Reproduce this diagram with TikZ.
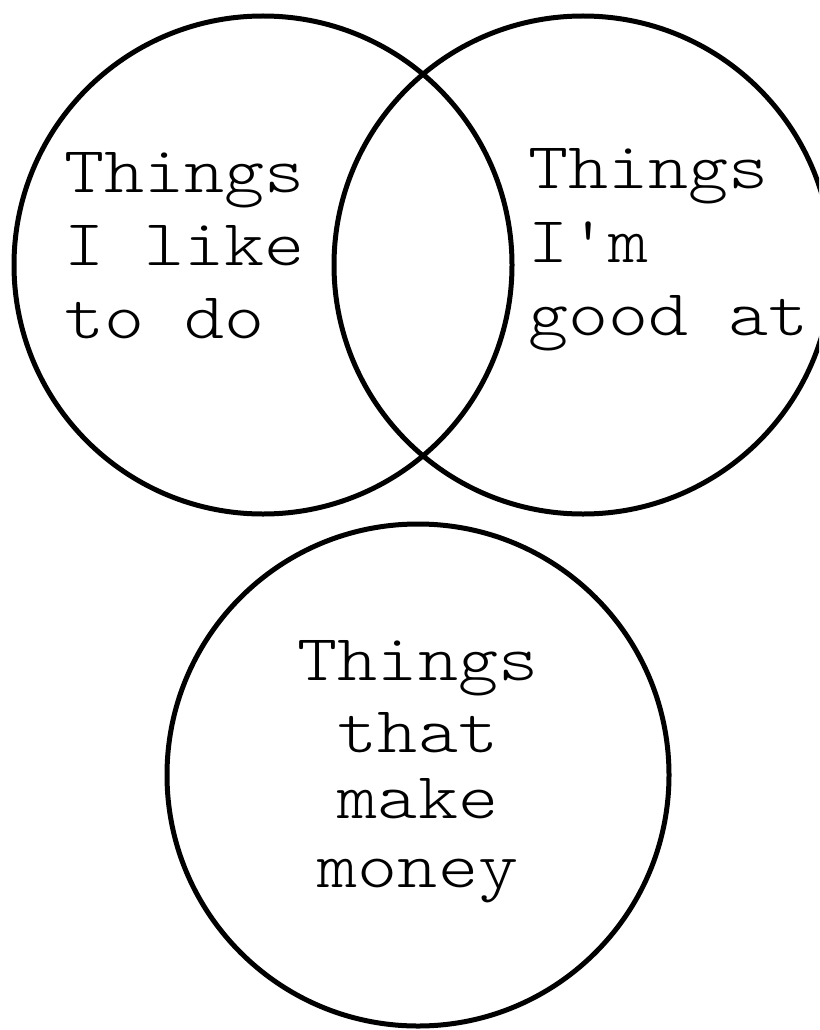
\documentclass[tikz,border=0pt]{standalone}
\usepackage{fontspec}
\newfontfamily\cour{lmmonolt10-regular.otf}[FakeStretch=1.165]
\begin{document}
\begin{tikzpicture}[x=1pt,y=-1pt,
  venn/.style={circle, draw=black, line width=5pt, inner sep=0pt},
  lbl/.style={inner sep=0pt, font=\cour\fontsize{65.5}{72}\selectfont, text=black}]
\useasboundingbox (0,0) rectangle (819,1030);
\clip (0,0) rectangle (819,1030);
\fill[white] (0,0) rectangle (819,1030);
\node[venn, minimum size=498pt] (like) at (263,265) {};
\node[venn, minimum size=498pt] (good) at (583,265) {};
\node[venn, minimum size=502pt] (money) at (418,775) {};
% left circle text
\node[lbl, anchor=base west] (l1) at (64,192) {Things};
\node[lbl, anchor=base west] (l2) at (64,265) {I like};
\node[lbl, anchor=base west] (l3) at (64,338) {to do};
% right circle text
\node[lbl, anchor=base west] (r1) at (528,188) {Things};
\node[lbl, anchor=base west] (r2) at (528,262) {I'm};
\node[lbl, anchor=base west] (r3) at (528,335) {good at};
% bottom circle text
\node[lbl, anchor=base] (b1) at (418,680) {Things};
\node[lbl, anchor=base] (b2) at (418,752) {that};
\node[lbl, anchor=base] (b3) at (418,818) {make};
\node[lbl, anchor=base] (b4) at (418,887) {money};
\end{tikzpicture}
\end{document}
